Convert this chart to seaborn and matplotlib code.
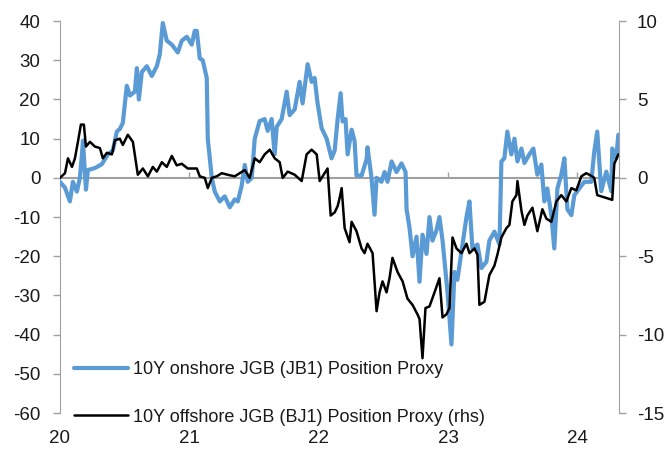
import matplotlib
matplotlib.use("Agg")
import matplotlib.pyplot as plt
import seaborn as sns
import pandas as pd

# ---- data (decimal years) ----
onshore_t = [2020.000, 2020.039, 2020.077, 2020.100, 2020.131, 2020.154, 2020.170, 2020.178, 2020.201, 2020.216,
             2020.270, 2020.324, 2020.371, 2020.409, 2020.440, 2020.463, 2020.486, 2020.517, 2020.541, 2020.579,
             2020.595, 2020.610, 2020.633, 2020.672, 2020.710, 2020.749, 2020.772, 2020.795, 2020.826, 2020.865,
             2020.911, 2020.942, 2020.981, 2021.019, 2021.042, 2021.058, 2021.081, 2021.104, 2021.135, 2021.143,
             2021.174, 2021.197, 2021.236, 2021.274, 2021.313, 2021.351, 2021.375, 2021.405, 2021.429, 2021.452,
             2021.483, 2021.506, 2021.544, 2021.583, 2021.606, 2021.637, 2021.660, 2021.676, 2021.714, 2021.753,
             2021.776, 2021.815, 2021.853, 2021.876, 2021.915, 2021.946, 2021.969, 2021.992, 2022.023, 2022.062,
             2022.100, 2022.124, 2022.147, 2022.170, 2022.185, 2022.208, 2022.224, 2022.255, 2022.278, 2022.293,
             2022.332, 2022.371, 2022.378, 2022.409, 2022.432, 2022.448, 2022.486, 2022.510, 2022.533, 2022.564,
             2022.602, 2022.641, 2022.672, 2022.680, 2022.703, 2022.726, 2022.757, 2022.780, 2022.803, 2022.834,
             2022.857, 2022.880, 2022.911, 2022.934, 2022.958, 2022.996, 2023.027, 2023.050, 2023.073, 2023.104,
             2023.143, 2023.166, 2023.189, 2023.228, 2023.259, 2023.297, 2023.320, 2023.359, 2023.398, 2023.413,
             2023.436, 2023.459, 2023.490, 2023.514, 2023.537, 2023.568, 2023.591, 2023.629, 2023.660, 2023.691,
             2023.722, 2023.745, 2023.768, 2023.799, 2023.822, 2023.846, 2023.876, 2023.900, 2023.923, 2023.954,
             2023.977, 2024.015, 2024.054, 2024.108, 2024.131, 2024.154, 2024.185, 2024.224, 2024.263, 2024.270,
             2024.301, 2024.317]
onshore_v = [-1, -2.5, -6, -1, -3.5, 0, 6, 9.5, -3, 2,
             2.5, 3.5, 6, 7, 11.8, 12.5, 14, 23.5, 21, 22,
             28, 20, 27, 28.5, 26, 28.5, 31.5, 39.5, 35, 34,
             32, 35, 36, 34, 37.5, 37.5, 30.5, 30, 25.5, 10,
             0, -3.5, -6, -4.7, -7.5, -5.5, -6, -2, 3.3, -1,
             0, 10, 14.5, 15, 12, 15, 6, 13, 15, 22,
             16, 17.5, 24.5, 19, 29, 24.5, 25.5, 19, 12.7, 10,
             5, 7, 15, 21.6, 14.4, 15, 6, 12.3, 9.4, 0.6,
             0.6, 4.8, 7.8, 0, -9.4, 0, -1, 1.5, -1, 4.2,
             1.5, 3.7, 1.5, -8, -12.8, -20, -15, -26.5, -14.5, -19.4,
             -10, -16, -13.4, -10, -16, -29, -42.5, -24, -26, -19,
             -10, -6, -18, -17, -23, -21.4, -16, -13.7, -17, 4.2,
             5, 11.8, 6, 10, 4.2, 7.5, 3.8, 6, 7.5, 0.8,
             3.4, -6, -2.7, -9.5, -18, -2.7, 0.8, 5, -8, -9.5,
             -4.4, -2.7, -1, -1, 6.7, 11.8, -3.4, 1.6, -3.4, 7.5,
             5, 11]

offshore_t = [2020.000, 2020.039, 2020.062, 2020.093, 2020.116, 2020.139, 2020.162, 2020.185, 2020.201, 2020.232,
              2020.270, 2020.309, 2020.332, 2020.363, 2020.402, 2020.425, 2020.463, 2020.486, 2020.525, 2020.564,
              2020.595, 2020.602, 2020.641, 2020.680, 2020.718, 2020.749, 2020.788, 2020.826, 2020.865, 2020.903,
              2020.942, 2020.988, 2021.027, 2021.058, 2021.081, 2021.120, 2021.143, 2021.174, 2021.212, 2021.251,
              2021.297, 2021.351, 2021.390, 2021.429, 2021.467, 2021.506, 2021.544, 2021.583, 2021.622, 2021.660,
              2021.699, 2021.722, 2021.761, 2021.815, 2021.869, 2021.907, 2021.946, 2021.985, 2022.008, 2022.046,
              2022.069, 2022.093, 2022.124, 2022.147, 2022.162, 2022.178, 2022.201, 2022.239, 2022.255, 2022.293,
              2022.332, 2022.355, 2022.378, 2022.417, 2022.448, 2022.471, 2022.494, 2022.525, 2022.548, 2022.571,
              2022.610, 2022.649, 2022.687, 2022.726, 2022.764, 2022.780, 2022.803, 2022.826, 2022.857, 2022.896,
              2022.934, 2022.958, 2022.988, 2023.012, 2023.035, 2023.066, 2023.104, 2023.143, 2023.166, 2023.205,
              2023.228, 2023.243, 2023.282, 2023.320, 2023.359, 2023.382, 2023.413, 2023.452, 2023.475, 2023.498,
              2023.529, 2023.537, 2023.568, 2023.591, 2023.614, 2023.653, 2023.691, 2023.730, 2023.761, 2023.799,
              2023.838, 2023.876, 2023.915, 2023.954, 2023.992, 2024.031, 2024.069, 2024.093, 2024.131, 2024.154,
              2024.193, 2024.232, 2024.270, 2024.286, 2024.317]
offshore_v = [0, 0.3, 1.25, 0.7, 1.25, 2.3, 3.4, 3.4, 2.0, 2.3,
              2.0, 1.9, 1.25, 1.6, 1.5, 2.4, 2.5, 2.1, 2.75, 2.3,
              0.6, 0.2, 0.6, 0.1, 0.7, 0.4, 1.0, 0.7, 1.4, 0.8,
              0.9, 0.6, 0.6, 0.6, 0.1, 0, -0.65, 0, 0.1, 0.3,
              0.2, 0.1, 0.3, 0.5, 0, 1.25, 1.0, 1.5, 1.8, 1.25,
              1.0, 0, 0.4, 0.2, -0.2, 1.5, 1.8, 1.5, -0.2, 0.3,
              0.6, -2.4, -2.2, -1.8, -1.3, -0.65, -3.2, -4.1, -2.8, -3.4,
              -4.5, -4.8, -4.2, -4.8, -8.5, -7.3, -6.6, -7.3, -6.4, -5.1,
              -6, -6.6, -7.7, -8.1, -8.7, -9, -11.5, -8.3, -8.2, -7.3,
              -6.4, -8.9, -8.7, -8.3, -3.8, -4.5, -4.8, -4.2, -4.8, -4.5,
              -4.9, -8.1, -7.9, -6.2, -5.6, -4.9, -3.8, -3.2, -3.0, -1.5,
              -1.1, -0.2, -2.1, -3.0, -2.4, -1.9, -3.4, -2.0, -2.6, -2.8,
              -1.5, -1.1, -1.5, -0.65, -0.8, 0.1, 0.3, 0.2, 0, -1.1,
              -1.2, -1.3, -1.4, 0.9, 1.5]

year_ticks = [2020, 2021, 2022, 2023, 2024]
year_labels = ["20", "21", "22", "23", "24"]
left_ticks = [40, 30, 20, 10, 0, -10, -20, -30, -40, -50, -60]
right_ticks = [10, 5, 0, -5, -10, -15]
label_on = "10Y onshore JGB (JB1) Position Proxy"
label_off = "10Y offshore JGB (BJ1) Position Proxy (rhs)"

sns.set_style("white")
plt.rcParams["font.family"] = ["Liberation Sans", "DejaVu Sans"]

BLUE = "#5B9BD5"
GREY = "#A0A0A0"
TXT = "#1a1a1a"

fig = plt.figure(figsize=(6.66, 4.49), dpi=100)
ax = fig.add_axes([0.090, 0.080, 0.839, 0.873])
ax2 = ax.twinx()

df_on = pd.DataFrame({"t": onshore_t, "v": onshore_v})
df_off = pd.DataFrame({"t": offshore_t, "v": offshore_v})

sns.lineplot(data=df_on, x="t", y="v", ax=ax, color=BLUE, linewidth=3.0, label=label_on, legend=False, zorder=3)
sns.lineplot(data=df_off, x="t", y="v", ax=ax2, color="black", linewidth=1.8, label=label_off, legend=False, zorder=3)

# zero line (behind the series)
ax.axhline(0, color=GREY, linewidth=1.5, zorder=1.5)

ax.set_xlim(2020, 2024.32)
ax.set_ylim(-60, 40)
ax2.set_ylim(-15, 10)
ax.set_xlabel("")
ax.set_ylabel("")
ax2.set_ylabel("")

for a in (ax, ax2):
    for s in a.spines.values():
        s.set_visible(False)
    a.grid(False)
ax.spines["left"].set_visible(True)
ax.spines["left"].set_color(GREY)
ax2.spines["right"].set_visible(True)
ax2.spines["right"].set_color(GREY)

ax.set_yticks(left_ticks)
ax.set_yticklabels([str(v) for v in left_ticks])
ax2.set_yticks(right_ticks)
ax2.set_yticklabels([str(v) for v in right_ticks])
ax.tick_params(axis="y", left=True, direction="out", length=5, width=1, color=GREY,
               labelsize=13.5, labelcolor=TXT, pad=9)
ax2.tick_params(axis="y", right=True, direction="out", length=5, width=1, color=GREY,
                labelsize=13.5, labelcolor=TXT, pad=8)

ax.set_xticks(year_ticks)
ax.set_xticklabels(year_labels)
ax.tick_params(axis="x", bottom=True, length=0, labelsize=13.5, labelcolor=TXT, pad=12)

# year tick marks hanging from the zero line
sec = ax.secondary_xaxis(0.6)
sec.set_xticks(year_ticks[1:])
sec.set_xticklabels([])
sec.tick_params(axis="x", direction="out", length=4.5, width=1, color=GREY)
for s in sec.spines.values():
    s.set_visible(False)

h1, l1 = ax.get_legend_handles_labels()
h2, l2 = ax2.get_legend_handles_labels()
leg = ax2.legend(h1 + h2, l1 + l2, loc="lower left", bbox_to_anchor=(0.1105, 0.052),
                 bbox_transform=fig.transFigure, frameon=False, fontsize=13,
                 handlelength=3.0, handletextpad=0.3, labelspacing=1.68,
                 borderpad=0, borderaxespad=0)
for t in leg.get_texts():
    t.set_color(TXT)

fig.savefig("out.png", dpi=100)
